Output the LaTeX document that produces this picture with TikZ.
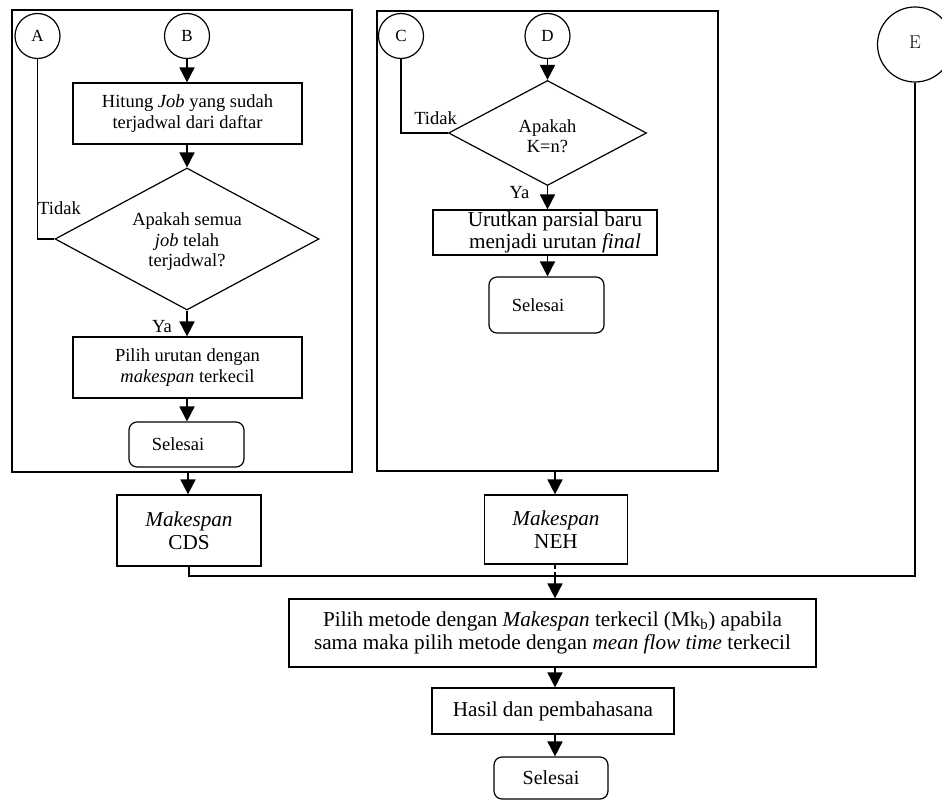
\documentclass[tikz,border=0pt]{standalone}
\usepackage{fontspec}
\setmainfont{Liberation Serif}
\usetikzlibrary{shapes.geometric,arrows.meta}
\newcommand\mytxt{\fontsize{18.5}{20.5}\selectfont}
\newcommand\bigtxt{\fontsize{21.2}{22.5}\selectfont}
\begin{document}
\begin{tikzpicture}[x=1pt,y=-1pt,
  ln/.style={line width=1.2pt},
  box/.style={draw, line width=1.2pt, rectangle, align=center, inner sep=0pt, font=\mytxt},
  bbox/.style={box, font=\bigtxt},
  rbox/.style={box, rounded corners=8pt},
  conn/.style={draw, circle, line width=1.2pt, inner sep=0pt, minimum size=45pt, font=\fontsize{17}{19}\selectfont},
  dia/.style={draw, diamond, line width=1.2pt, inner sep=0pt},
  frame/.style={draw, line width=1.5pt, inner sep=0pt},
  lbl/.style={font=\mytxt, inner sep=0pt},
  arr/.style={line width=1.8pt, -{Triangle[length=15pt,width=15pt]}}]
\useasboundingbox (0,0) rectangle (942,800);
% frames
\node[frame, minimum width=340pt, minimum height=462pt] (fL) at (182,241) {};
\node[frame, minimum width=341pt, minimum height=460pt] (fM) at (547.5,241) {};
% left column
\node[conn] (A) at (37.5,36) {A};
\node[conn] (B) at (187,36) {B};
\node[box, minimum width=229pt, minimum height=61pt] (hit) at (187.5,113.5) {Hitung \textit{Job} yang sudah\\terjadwal dari daftar};
\node[dia, minimum width=264pt, minimum height=142pt] (d1) at (187,239) {};
\node[align=center, font=\mytxt, inner sep=0pt] (d1t) at (187,242) {Apakah semua\\\textit{job} telah\\terjadwal?};
\node[box, minimum width=229pt, minimum height=61pt] (pil) at (187.5,367.5) {Pilih urutan dengan\\\textit{makespan} terkecil};
\node[rbox, minimum width=115pt, minimum height=45pt] (s1) at (186.5,444.5) {Selesai\hspace*{17pt}};
\node[lbl] (tid1) at (59.5,208) {Tidak};
\node[lbl] (ya1) at (162,327) {Ya};
% middle column
\node[conn] (C) at (401,36) {C};
\node[conn] (D) at (547.5,36) {D};
\node[dia, minimum width=198pt, minimum height=105pt] (d2) at (547.5,133) {};
\node[align=center, font=\mytxt, inner sep=0pt] (d2t) at (547.5,136) {Apakah\\K=n?};
\node[bbox, minimum width=224pt, minimum height=45pt] (uru) at (545,232.5) {\hspace*{20pt}Urutkan parsial baru\\\hspace*{20pt}menjadi urutan \textit{final}};
\node[rbox, minimum width=115pt, minimum height=56pt] (s2) at (546.5,305) {Selesai\hspace*{17pt}};
\node[lbl] (tid2) at (435.5,118) {Tidak};
\node[lbl] (ya2) at (519.5,193) {Ya};
% E
\node[conn, minimum size=75pt, font=\fontsize{18.5}{20}\selectfont] (E) at (915,44.5) {\fontfamily{lmr}\selectfont\raisebox{5pt}{E}};
% results
\node[bbox, minimum width=144pt, minimum height=71pt] (cds) at (189,530.5) {\textit{Makespan}\\CDS};
\node[bbox, minimum width=143pt, minimum height=69pt] (neh) at (556,529.5) {\textit{Makespan}\\NEH};
\coordinate (J) at (555,576);
\node[bbox, minimum width=527pt, minimum height=68pt] (fin) at (552.5,633) {Pilih metode dengan \textit{Makespan} terkecil (Mk\textsubscript{b}) apabila\\sama maka pilih metode dengan \textit{mean flow time} terkecil};
\node[bbox, minimum width=242pt, minimum height=46pt] (has) at (553,711) {Hasil dan pembahasana};
\node[rbox, font=\fontsize{20}{22}\selectfont, minimum width=114pt, minimum height=42pt] (s3) at (551,778) {Selesai};
% connectors left
\draw[ln] (A.south) |- (d1.west);
\draw[arr] (B.south) -- (B.south |- hit.north);
\draw[arr] (hit.south -| d1.north) -- (d1.north);
\draw[arr] (d1.south) -- (d1.south |- pil.north);
\draw[arr] (pil.south -| d1.south) -- (d1.south |- s1.north);
\draw[arr] (fL.south -| 188,0) -- (cds.north -| 188,0);
% connectors middle
\draw[ln] (C.south) |- (d2.west);
\draw[arr] (D.south) -- (D.south |- d2.north);
\draw[arr] (d2.south) -- (d2.south |- uru.north);
\draw[arr] (uru.south -| d2.south) -- (d2.south |- s2.north);
\draw[arr] (fM.south -| J) -- (neh.north -| J);
% merge
\draw[ln] (cds.south) |- (J);
\draw[ln] (E.south) |- (J);
\draw[ln, dashed, dash pattern=on 4pt off 3pt] (neh.south -| J) -- (J);
\draw[arr] (J) -- (J |- fin.north);
\draw[arr] (fin.south -| J) -- (J |- has.north);
\draw[arr] (has.south -| J) -- (J |- s3.north);
\end{tikzpicture}
\end{document}
